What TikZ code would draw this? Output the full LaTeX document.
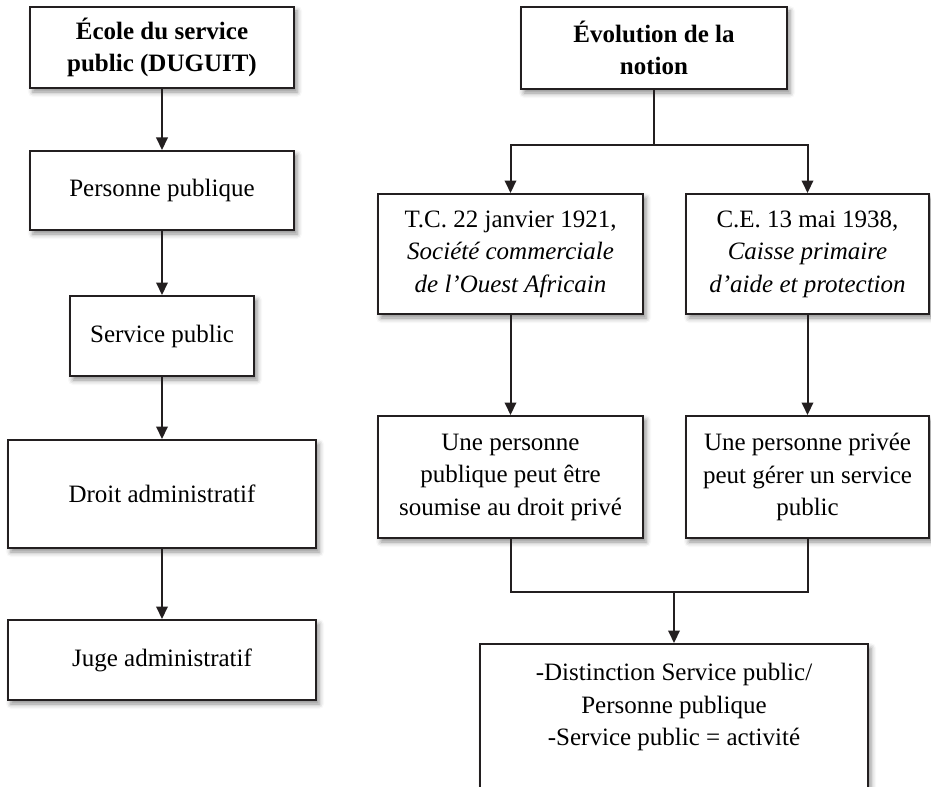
\documentclass[tikz,border=0pt]{standalone}
\usepackage{fontspec}
\setmainfont{Liberation Serif}
\usepackage{tikz}
\usetikzlibrary{arrows.meta,shadows.blur}
\definecolor{trait}{RGB}{35,31,32}
\tikzset{
  boite/.style  = {shape=rectangle, draw=trait, line width=0.8pt, fill=white,
                   align=center, inner sep=0pt,
                   font=\fontsize{10}{13}\selectfont,
                   blur shadow={shadow xshift=1.2pt, shadow yshift=-1.6pt,
                                shadow blur radius=2pt, shadow opacity=45}},
  titre/.style  = {boite, font=\fontsize{10}{13}\selectfont\bfseries},
  fleche/.style = {draw=trait, line width=0.8pt,
                   -{Triangle[length=5pt,width=4.6pt]}},
  lien/.style   = {draw=trait, line width=0.8pt},
}

\begin{document}
\begin{tikzpicture}
  [
    x = 0.4pt,
    y = -0.4pt
  ]
  \useasboundingbox (0,0) rectangle (931,786);
  \clip (0,0) rectangle (931,786);

  \node [titre, minimum width=105.6pt, minimum height=32.4pt] (ecole) at (162,47.5)
    {École du service\\public (DUGUIT)};
  \node [boite, minimum width=105.6pt, minimum height=31.6pt] (personne) at (162,190.5)
    {Personne publique};
  \node [boite, minimum width=73.6pt, minimum height=32pt] (service) at (162,336)
    {Service public};
  \node [boite, minimum width=123.2pt, minimum height=43.2pt] (droit) at (162,494)
    {Droit administratif};
  \node [boite, minimum width=123.2pt, minimum height=32pt] (juge) at (162,660)
    {Juge administratif};

  \node [titre, minimum width=106.4pt, minimum height=32.8pt] (evolution) at (654,48)
    {Évolution de la\\notion};
  \node [boite, minimum width=106pt, minimum height=48pt] (tc) at (510.5,254)
    {T.C. 22 janvier 1921,\\\textit{Société commerciale}\\\textit{de l’Ouest Africain}};
  \node [boite, minimum width=97.2pt, minimum height=48pt] (ce) at (807.5,254)
    {C.E. 13 mai 1938,\\\textit{Caisse primaire}\\\textit{d’aide et protection}};
  \node [boite, minimum width=106pt, minimum height=48.8pt] (pub) at (510.5,477)
    {Une personne\\publique peut être\\soumise au droit privé};
  \node [boite, minimum width=97.2pt, minimum height=48.8pt] (priv) at (807.5,477)
    {Une personne privée\\peut gérer un service\\public};
  \node [boite, minimum width=155.2pt, minimum height=68pt, anchor=north] (bilan) at (674,643) {};
  \node [align=center, inner sep=0pt, anchor=north, font=\fontsize{10}{13}\selectfont]
    (bilantxt) at (674,663)
    {-Distinction Service public/\\Personne publique\\-Service public = activité};

  \coordinate (fourche) at (654,145);
  \coordinate (jonction) at (674,592);

  \draw [fleche] (ecole) -- (personne);
  \draw [fleche] (personne) -- (service);
  \draw [fleche] (service) -- (droit);
  \draw [fleche] (droit) -- (juge);

  \draw [lien] (evolution) -- (fourche);
  \draw [fleche] (fourche) -| (tc);
  \draw [fleche] (fourche) -| (ce);
  \draw [fleche] (tc) -- (pub);
  \draw [fleche] (ce) -- (priv);
  \draw [lien] (pub) |- (jonction) -| (priv);
  \draw [fleche] (jonction) -- (bilan);
\end{tikzpicture}
\end{document}
